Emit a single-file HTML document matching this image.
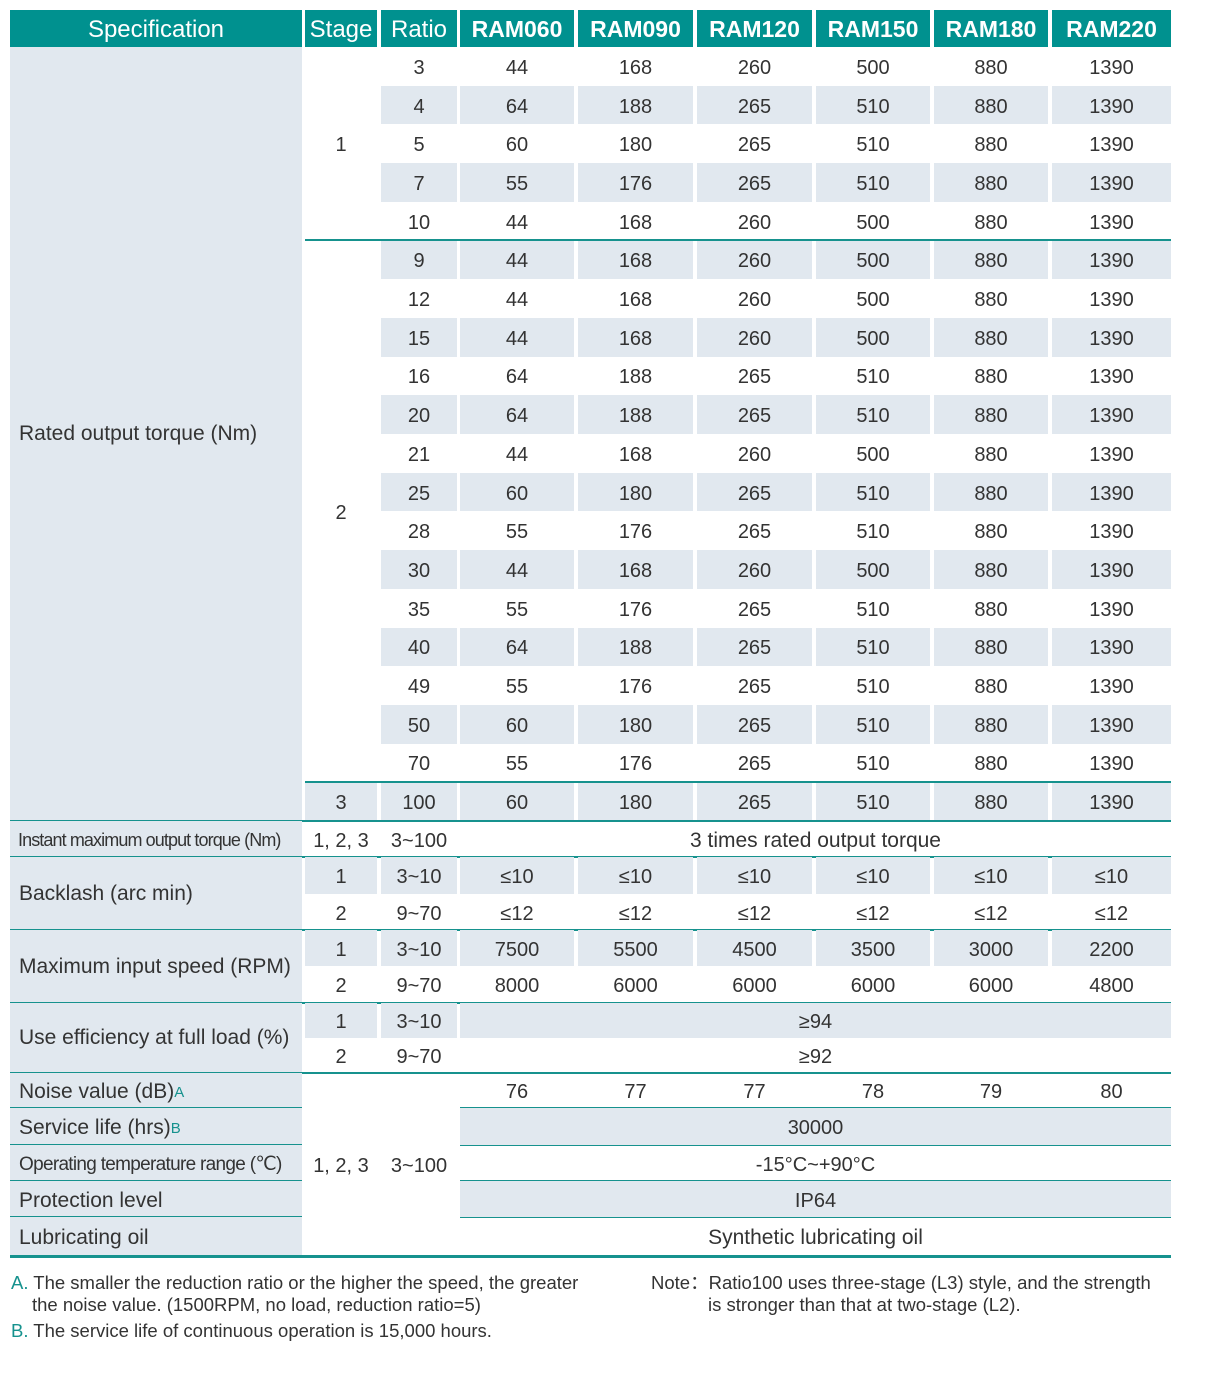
<!DOCTYPE html>
<html><head><meta charset="utf-8">
<style>
body{margin:0;width:1210px;height:1378px;background:#fff;position:relative;overflow:hidden;font-family:"Liberation Sans",sans-serif;color:#333}
.a{position:absolute;display:flex;align-items:center;justify-content:center;box-sizing:border-box;white-space:nowrap}
.h{background:#00918f;color:#fff;font-weight:bold;font-size:23px;padding-top:2px}
.s{background:#e1e8ef}
.t{font-size:20px;padding-top:4px}
.l{justify-content:flex-start;padding-left:9px;font-size:21px}
.ln{position:absolute;height:2px;background:#16928e}
.fn{position:absolute;font-size:18.5px;line-height:22px;color:#333;white-space:nowrap}
sup{color:#16928e;font-size:15px;vertical-align:6px}
</style></head><body>
<script>
const X=[[10,302],[305,377],[381,457],[460,574],[578,693],[697,812],[816,930],[934,1048],[1052,1171]];
let h='';
function box(c1,c2,y1,y2,cls,txt,extra){h+=`<div class="a ${cls}" style="left:${X[c1][0]}px;width:${X[c2][1]-X[c1][0]}px;top:${y1}px;height:${y2-y1}px;${extra||''}">${txt}</div>`;}
function line(c1,c2,y,th){h+=`<div class="ln" style="left:${X[c1][0]}px;width:${X[c2][1]-X[c1][0]}px;top:${y-1}px;height:${th||2}px"></div>`;}
const hd=['Specification','Stage','Ratio','RAM060','RAM090','RAM120','RAM150','RAM180','RAM220'];
hd.forEach((t,i)=>box(i,i,10,47,'h',t,i<3?'font-weight:normal;font-size:24px':''));
const rows=[[3,44,168,260,500,880,1390],[4,64,188,265,510,880,1390],[5,60,180,265,510,880,1390],[7,55,176,265,510,880,1390],[10,44,168,260,500,880,1390],
[9,44,168,260,500,880,1390],[12,44,168,260,500,880,1390],[15,44,168,260,500,880,1390],[16,64,188,265,510,880,1390],[20,64,188,265,510,880,1390],[21,44,168,260,500,880,1390],[25,60,180,265,510,880,1390],[28,55,176,265,510,880,1390],[30,44,168,260,500,880,1390],[35,55,176,265,510,880,1390],[40,64,188,265,510,880,1390],[49,55,176,265,510,880,1390],[50,60,180,265,510,880,1390],[70,55,176,265,510,880,1390],[100,60,180,265,510,880,1390]];
const R=38.7,T=47;
box(0,0,47,821,'s l','Rated output torque (Nm)');
rows.forEach((r,i)=>{const y1=T+i*R,y2=T+(i+1)*R;const sh=i%2==1?'s':'';
 r.forEach((v,j)=>box(j+2,j+2,y1,y2,'t '+sh,v));
 if(i==19)box(1,1,y1,y2,'t s','3');});
box(1,1,47,240,'t','1');box(1,1,240,782,'t','2');
line(1,8,240);line(1,8,782);line(0,8,821);
box(0,0,821,857,'s l','<span style="font-size:18px;letter-spacing:-0.9px">Instant maximum output torque (Nm)</span>','padding-left:8px;padding-top:2px');
box(1,1,821,857,'t','1, 2, 3');box(2,2,821,857,'t','3~100');box(3,8,821,857,'t','3 times rated output torque','font-size:21px');
line(0,8,857);
function two(y1,ym,y2,lab,v1,v2,merge){
 box(0,0,y1,y2,'s l',lab);
 box(1,1,y1,ym,'t s','1');box(2,2,y1,ym,'t s','3~10');
 box(1,1,ym,y2,'t','2');box(2,2,ym,y2,'t','9~70');
 if(merge){box(3,8,y1,ym,'t s',v1);box(3,8,ym,y2,'t',v2);}
 else{v1.forEach((v,j)=>box(j+3,j+3,y1,ym,'t s',v));v2.forEach((v,j)=>box(j+3,j+3,ym,y2,'t',v));}
 line(0,8,y2);}
two(857,894,930,'Backlash (arc min)',Array(6).fill('≤10'),Array(6).fill('≤12'));
two(930,966,1003,'Maximum input speed (RPM)',[7500,5500,4500,3500,3000,2200],[8000,6000,6000,6000,6000,4800]);
two(1003,1038,1073,'Use efficiency at full load (%)','≥94','≥92',true);
const lo=[[1073,1108,'Noise value (dB)<sup>A</sup>'],[1108,1145,'Service life (hrs)<sup>B</sup>'],[1145,1181,'<span style="font-size:19px;letter-spacing:-0.7px">Operating temperature range (℃)</span>'],[1181,1217,'Protection level'],[1217,1255,'Lubricating oil']];
lo.forEach((r,i)=>{box(0,0,r[0],r[1],'s l',r[2],'padding-top:3px');if(i<4){line(0,0,r[1]);line(3,8,r[1]);}});
[76,77,77,78,79,80].forEach((v,j)=>box(j+3,j+3,1073,1108,'t',v));
box(3,8,1108,1145,'t s','30000');box(3,8,1145,1181,'t','-15°C~+90°C');box(3,8,1181,1217,'t s','IP64');box(3,8,1217,1255,'t','Synthetic lubricating oil','font-size:21px');
box(1,1,1073,1255,'t','1, 2, 3');box(2,2,1073,1255,'t','3~100');
line(0,8,1256,3);
document.write(h);
</script>
<div class="fn" style="left:11px;top:1272px"><span style="color:#16928e">A.</span> The smaller the reduction ratio or the higher the speed, the greater<br><span style="padding-left:21px">the noise value. (1500RPM, no load, reduction ratio=5)</span></div>
<div class="fn" style="left:11px;top:1320px"><span style="color:#16928e">B.</span> The service life of continuous operation is 15,000 hours.</div>
<div class="fn" style="left:651px;top:1272px">Note：Ratio100 uses three-stage (L3) style, and the strength<br><span style="padding-left:57px">is stronger than that at two-stage (L2).</span></div>
</body></html>
